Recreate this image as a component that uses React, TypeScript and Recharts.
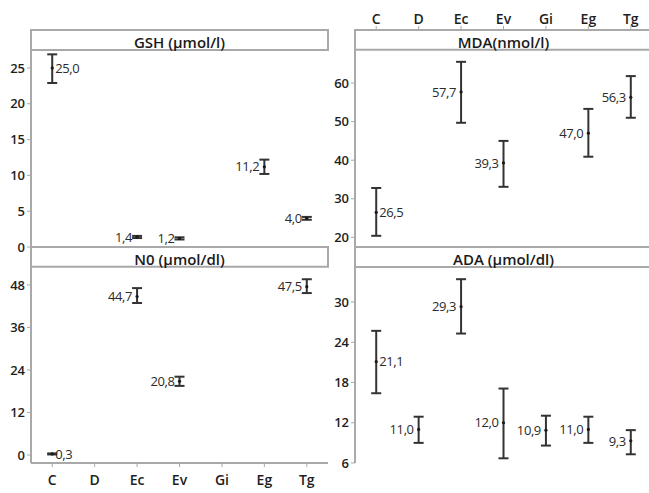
import React from 'react';
import { ScatterChart, Scatter, XAxis, YAxis, ErrorBar, ReferenceArea } from 'recharts';

const categories = ['C', 'D', 'Ec', 'Ev', 'Gi', 'Eg', 'Tg'];

// group means with lower / upper interval bounds (null = group not shown)
const gshMean = [25.0, null, 1.4, 1.2, null, 11.2, 4.0];
const gshLow = [22.9, null, 1.25, 1.05, null, 10.2, 3.8];
const gshHigh = [26.9, null, 1.55, 1.35, null, 12.2, 4.2];

const noMean = [0.3, null, 44.7, 20.8, null, null, 47.5];
const noLow = [0.15, null, 42.9, 19.5, null, null, 45.7];
const noHigh = [0.45, null, 47.1, 22.1, null, null, 49.6];

const mdaMean = [26.5, null, 57.7, 39.3, null, 47.0, 56.3];
const mdaLow = [20.4, null, 49.7, 33.1, null, 40.9, 51.0];
const mdaHigh = [32.8, null, 65.5, 45.0, null, 53.3, 61.8];

const adaMean = [21.1, 11.0, 29.3, 12.0, 10.9, 11.0, 9.3];
const adaLow = [16.4, 9.0, 25.3, 6.7, 8.6, 9.0, 7.3];
const adaHigh = [25.7, 12.9, 33.4, 17.1, 13.05, 12.9, 10.9];

const gshTicks = [0, 5, 10, 15, 20, 25];
const noTicks = [0, 12, 24, 36, 48];
const mdaTicks = [20, 30, 40, 50, 60];
const adaTicks = [6, 12, 18, 24, 30];

const FONT = "'Open Sans', 'DejaVu Sans', sans-serif";
const GRID = '#a9a9a9';

type Row = { x: number; y: number; err: [number, number] };

function buildRows(mean: (number | null)[], low: (number | null)[], high: (number | null)[]): Row[] {
  const rows: Row[] = [];
  categories.forEach((_, i) => {
    const m = mean[i];
    if (m == null) return;
    rows.push({ x: i, y: m, err: [m - (low[i] as number), (high[i] as number) - m] });
  });
  return rows;
}

const MeanPoint = (props: any) => {
  const { cx, cy, payload } = props;
  const right = payload.x === 0;
  const txt = payload.y.toFixed(1).replace('.', ',');
  return (
    <g>
      <circle cx={cx} cy={cy} r={1.6} fill="#1a1a1a" />
      <text
        x={right ? cx + 3 : cx - 5}
        y={cy}
        dy="0.36em"
        textAnchor={right ? 'start' : 'end'}
        fontSize={13}
        fontFamily={FONT}
        letterSpacing={-0.4}
        fill="#2b2b2b"
      >
        {txt}
      </text>
    </g>
  );
};

interface PanelProps {
  title: string;
  rows: Row[];
  plotLeft: number;
  plotTop: number;
  plotBottom: number;
  domain: [number, number];
  headerLow: number;
  ticks: number[];
  xAxis: 'top' | 'bottom' | 'none';
}

const CHART_W = 652;
const CHART_H = 493;
const PLOT_W = 297;
const Y_W = 30;
const X_H = 30;

const Panel: React.FC<PanelProps> = ({ title, rows, plotLeft, plotTop, plotBottom, domain, headerLow, ticks, xAxis }) => {
  const margin = {
    top: xAxis === 'top' ? plotTop - X_H : plotTop,
    bottom: CHART_H - plotBottom - (xAxis === 'bottom' ? X_H : 0),
    left: plotLeft - Y_W,
    right: CHART_W - plotLeft - PLOT_W,
  };
  const tickStyle = { fontSize: 13, fontWeight: 600, fill: '#1e1e1e', fontFamily: FONT };
  return (
    <div style={{ position: 'absolute', left: 0, top: 0 }}>
      <ScatterChart width={CHART_W} height={CHART_H} margin={margin}>
        <XAxis
          type="number"
          dataKey="x"
          domain={[-0.5, 6.5]}
          ticks={[0, 1, 2, 3, 4, 5, 6]}
          interval={0}
          tickFormatter={(i: number) => categories[i]}
          hide={xAxis === 'none'}
          orientation={xAxis === 'top' ? 'top' : 'bottom'}
          height={X_H}
          axisLine={{ stroke: GRID, strokeWidth: 2 }}
          tickLine={{ stroke: GRID }}
          tickSize={4}
          tickMargin={xAxis === 'top' ? 2 : 8}
          tick={{ ...tickStyle, fontSize: 14 }}
        />
        <YAxis
          type="number"
          dataKey="y"
          domain={domain}
          allowDataOverflow
          ticks={ticks}
          interval={0}
          width={Y_W}
          axisLine={{ stroke: GRID, strokeWidth: 2 }}
          tickLine={{ stroke: GRID }}
          tickSize={4}
          tickMargin={2}
          tick={tickStyle}
        />
        <ReferenceArea
          x1={-0.5}
          x2={6.5}
          y1={headerLow}
          y2={domain[1]}
          fill="#fff"
          fillOpacity={1}
          stroke={GRID}
          strokeWidth={2}
          label={{
            value: title,
            position: 'insideBottom',
            offset: 2,
            fontSize: 15,
            fontWeight: 600,
            fill: '#1a1a1a',
            fontFamily: FONT,
          }}
        />
        <Scatter data={rows} shape={MeanPoint} isAnimationActive={false}>
          <ErrorBar dataKey="err" direction="y" width={5} stroke="#333" strokeWidth={2} isAnimationActive={false} />
        </Scatter>
      </ScatterChart>
    </div>
  );
};

export default function App() {
  return (
    <div
      style={{
        position: 'absolute',
        left: 0,
        top: 0,
        width: 649,
        height: 493,
        overflow: 'hidden',
        background: '#fff',
      }}
    >
      <Panel
        title="GSH (µmol/l)"
        rows={buildRows(gshMean, gshLow, gshHigh)}
        plotLeft={31}
        plotTop={30}
        plotBottom={247}
        domain={[0, 30.3]}
        headerLow={27.5}
        ticks={gshTicks}
        xAxis="none"
      />
      <Panel
        title="N0 (µmol/dl)"
        rows={buildRows(noMean, noLow, noHigh)}
        plotLeft={31}
        plotTop={247}
        plotBottom={463}
        domain={[-2.26, 58.7]}
        headerLow={53.1}
        ticks={noTicks}
        xAxis="bottom"
      />
      <Panel
        title="MDA(nmol/l)"
        rows={buildRows(mdaMean, mdaLow, mdaHigh)}
        plotLeft={355}
        plotTop={30}
        plotBottom={247}
        domain={[17.5, 73.75]}
        headerLow={68.6}
        ticks={mdaTicks}
        xAxis="top"
      />
      <Panel
        title="ADA (µmol/dl)"
        rows={buildRows(adaMean, adaLow, adaHigh)}
        plotLeft={355}
        plotTop={247}
        plotBottom={463}
        domain={[6, 38.2]}
        headerLow={35.2}
        ticks={adaTicks}
        xAxis="none"
      />
    </div>
  );
}
